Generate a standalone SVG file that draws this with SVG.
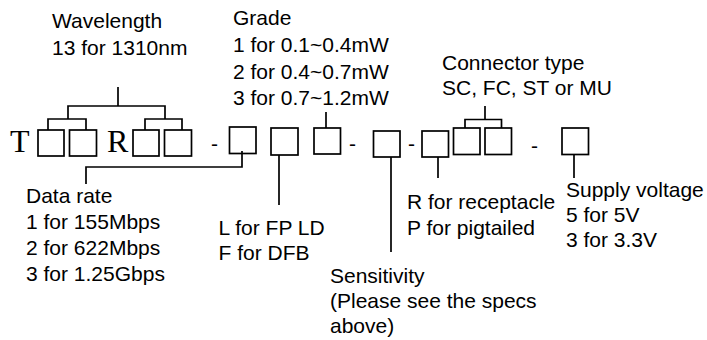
<svg xmlns="http://www.w3.org/2000/svg" width="707" height="340" viewBox="0 0 707 340">
<style>
.t{font-family:"Liberation Sans",Arial,sans-serif;font-size:21px;fill:#000}
.s{font-family:"Liberation Serif","Times New Roman",serif;font-size:32px;fill:#000}
.b{fill:none;stroke:#000;stroke-width:1.7}
.c{fill:none;stroke:#000;stroke-width:1.7}
</style>
<rect width="707" height="340" fill="#fff"/>
<g id="letters">
<text class="s" x="10" y="152">T</text>
<text class="s" x="107" y="152">R</text>
<text class="t" x="211" y="151">-</text>
<text class="t" x="349" y="151">-</text>
<text class="t" x="408" y="151">-</text>
<text class="t" x="531" y="153">-</text>
</g>
<g id="box-wl1"><rect class="b" x="38" y="130" width="26" height="26"/></g>
<g id="box-wl2"><rect class="b" x="69.5" y="130" width="27" height="26"/></g>
<g id="box-wl3"><rect class="b" x="133" y="130" width="26" height="26"/></g>
<g id="box-wl4"><rect class="b" x="164.5" y="130" width="27" height="26"/></g>
<g id="box-rate"><rect class="b" x="229.5" y="127" width="26.5" height="26.5"/></g>
<g id="box-laser"><rect class="b" x="271" y="128" width="27" height="27"/></g>
<g id="box-grade"><rect class="b" x="314" y="128" width="26.5" height="26"/></g>
<g id="box-sens"><rect class="b" x="373.5" y="131" width="26.5" height="26"/></g>
<g id="box-rp"><rect class="b" x="422" y="131" width="26.5" height="26"/></g>
<g id="box-conn1"><rect class="b" x="453.5" y="128" width="26.5" height="26.5"/></g>
<g id="box-conn2"><rect class="b" x="485" y="128" width="26.5" height="26.5"/></g>
<g id="box-supply"><rect class="b" x="562" y="128" width="26.5" height="26.5"/></g>
<g id="connectors">
<path class="c" d="M118 87V106M68 119V106H165V119M48 130V119H86V130M145 130V119H182V130"/>
<path class="c" d="M242 151V167H86V184"/>
<path class="c" d="M279 155V205"/>
<path class="c" d="M326 112V128"/>
<path class="c" d="M391 157V252"/>
<path class="c" d="M438 157V178"/>
<path class="c" d="M485 106V119.5M465 128V119.5H501.5V128"/>
<path class="c" d="M574 154.5V178"/>
</g>
<g id="label-wavelength">
<text class="t" x="52" y="28">Wavelength</text>
<text class="t" x="52" y="55">13 for 1310nm</text>
</g>
<g id="label-grade">
<text class="t" x="233" y="25">Grade</text>
<text class="t" x="233" y="52">1 for 0.1~0.4mW</text>
<text class="t" x="233" y="79">2 for 0.4~0.7mW</text>
<text class="t" x="233" y="105">3 for 0.7~1.2mW</text>
</g>
<g id="label-connector">
<text class="t" x="442" y="70">Connector type</text>
<text class="t" x="442" y="95">SC, FC, ST or MU</text>
</g>
<g id="label-datarate">
<text class="t" x="26" y="203">Data rate</text>
<text class="t" x="26" y="229">1 for 155Mbps</text>
<text class="t" x="26" y="255">2 for 622Mbps</text>
<text class="t" x="26" y="281">3 for 1.25Gbps</text>
</g>
<g id="label-laser">
<text class="t" x="218.5" y="235">L for FP LD</text>
<text class="t" x="218.5" y="260">F for DFB</text>
</g>
<g id="label-sensitivity">
<text class="t" x="330" y="283">Sensitivity</text>
<text class="t" x="330" y="308">(Please see the specs</text>
<text class="t" x="330" y="333">above)</text>
</g>
<g id="label-rp">
<text class="t" x="407" y="209">R for receptacle</text>
<text class="t" x="407" y="235">P for pigtailed</text>
</g>
<g id="label-supply">
<text class="t" x="566" y="197">Supply voltage</text>
<text class="t" x="566" y="222">5 for 5V</text>
<text class="t" x="566" y="247">3 for 3.3V</text>
</g>
</svg>
